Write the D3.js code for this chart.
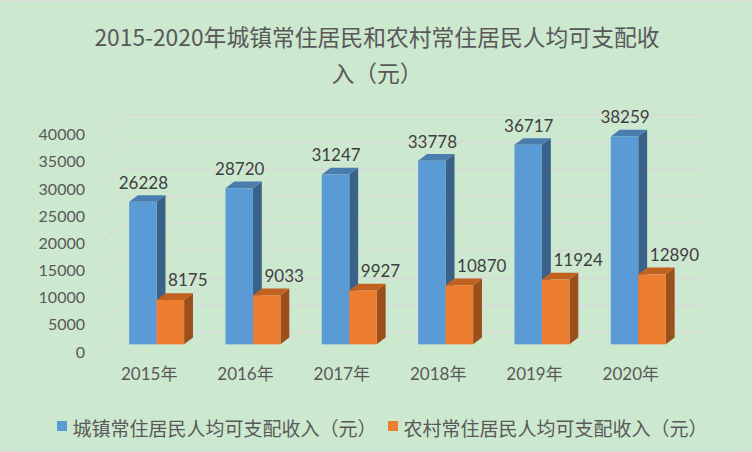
<!DOCTYPE html>
<html>
<head>
<meta charset="utf-8">
<script src="https://cdn.jsdelivr.net/npm/d3@7"></script>
<style>
  body { margin: 0; background: #cce8cf; }
  svg { display: block; }
</style>
</head>
<body>
<div id="chart"></div>
<script>
const years = ["2015年", "2016年", "2017年", "2018年", "2019年", "2020年"];
const urban = [26228, 28720, 31247, 33778, 36717, 38259];
const rural = [8175, 9033, 9927, 10870, 11924, 12890];
const seriesNames = ["城镇常住居民人均可支配收入（元）", "农村常住居民人均可支配收入（元）"];
const yTicks = [0, 5000, 10000, 15000, 20000, 25000, 30000, 35000, 40000];
const titleLines = ["2015-2020年城镇常住居民和农村常住居民人均可支配收", "入（元）"];

const width = 752, height = 452
const textColor = "#595959"
const gridColor = "#d9d9d9"

// fake 3d: front plane + depth vector
const depth = {dx: 23.3, dy: -17.7}
const t0 = 0.32, t1 = 0.70   // where the bars sit between front and back wall

const colors = [
  {front: "#5b9bd5", top: "#4a7cae", side: "#3a6288"},
  {front: "#ed7d31", top: "#c0611f", side: "#9a4f1c"}
]

const svg = d3.select("#chart").append("svg").attr("width", width).attr("height", height)

svg.append("rect").attr("x", 0.5).attr("y", 0.5).attr("width", width - 1).attr("height", height - 1)
  .attr("fill", "#cce8cf").attr("stroke", gridColor)

// title
svg.selectAll(".title").data(titleLines).enter().append("text")
  .attr("class", "title")
  .attr("x", 377)
  .attr("y", (d, i) => 46 + i * 36)
  .attr("text-anchor", "middle")
  .attr("font-family", "'Noto Sans CJK SC'")
  .attr("font-size", 22.8)
  .attr("fill", textColor)
  .text(d => d)

const x = d3.scaleBand().domain(years).range([101, 679]).padding(0)
const y = d3.scaleLinear().domain([0, 40000]).range([350, 132.7])

const groupW = x.bandwidth() * 0.571
const groupOff = (x.bandwidth() - groupW) / 2
const barW = groupW / 2

// gridlines: back wall + left side wall
const grid = svg.append("g")
grid.selectAll(".gback").data(yTicks).enter().append("line")
  .attr("x1", x.range()[0] + depth.dx).attr("x2", x.range()[1] + depth.dx)
  .attr("y1", d => y(d) + depth.dy).attr("y2", d => y(d) + depth.dy)
  .attr("stroke", gridColor).attr("stroke-width", 1.5)
grid.selectAll(".gside").data(yTicks).enter().append("line")
  .attr("x1", x.range()[0]).attr("x2", x.range()[0] + depth.dx)
  .attr("y1", d => y(d)).attr("y2", d => y(d) + depth.dy)
  .attr("stroke", gridColor).attr("stroke-width", 1.5)

// y axis labels
svg.selectAll(".ylab").data(yTicks).enter().append("text")
  .attr("x", 85)
  .attr("y", d => y(d) + 1)
  .attr("dominant-baseline", "central")
  .attr("text-anchor", "end")
  .attr("font-family", "Lato, 'Open Sans', sans-serif")
  .attr("font-size", 16)
  .attr("fill", textColor)
  .text(d => d)

// x axis labels
svg.selectAll(".xlab").data(years).enter().append("text")
  .attr("x", d => x(d) + x.bandwidth() / 2)
  .attr("y", 380)
  .attr("text-anchor", "middle")
  .attr("font-family", "Lato, 'Noto Sans CJK SC', sans-serif")
  .attr("font-size", 17)
  .attr("fill", textColor)
  .text(d => d)

function bar3d(g, x0, v, c) {
  const ox = t0 * depth.dx, oy = t0 * depth.dy
  const ddx = (t1 - t0) * depth.dx, ddy = (t1 - t0) * depth.dy
  const xl = x0 + ox, xr = x0 + ox + barW
  const yt = y(v) + oy, yb = y(0) + oy
  // side
  g.append("path")
    .attr("d", `M${xr},${yt}L${xr + ddx},${yt + ddy}L${xr + ddx},${yb + ddy}L${xr},${yb}Z`)
    .attr("fill", c.side)
  // top
  g.append("path")
    .attr("d", `M${xl},${yt}L${xl + ddx},${yt + ddy}L${xr + ddx},${yt + ddy}L${xr},${yt}Z`)
    .attr("fill", c.top)
  // front
  g.append("rect")
    .attr("x", xl).attr("y", yt).attr("width", barW).attr("height", yb - yt)
    .attr("fill", c.front)
}

const bars = svg.append("g")
years.forEach((yr, i) => {
  const gx = x(yr) + groupOff
  bar3d(bars, gx, urban[i], colors[0])
  bar3d(bars, gx + barW, rural[i], colors[1])
})

// data labels
const labels = svg.append("g")
  .attr("font-family", "Lato, 'Open Sans', sans-serif")
  .attr("font-size", 17)
  .attr("fill", "#404040")
labels.selectAll(".lu").data(urban).enter().append("text")
  .attr("x", (d, i) => x(years[i]) + groupOff + t0 * depth.dx + barW / 2 + 0.5)
  .attr("y", d => y(d) + t1 * depth.dy - 6.5)
  .attr("text-anchor", "middle")
  .text(d => d)
labels.selectAll(".lr").data(rural).enter().append("text")
  .attr("x", (d, i) => x(years[i]) + groupOff + t0 * depth.dx + barW + 11.5)
  .attr("y", d => y(d) + t1 * depth.dy - 7)
  .attr("text-anchor", "start")
  .text(d => d)

// legend
const legX = [57, 388]
const legend = svg.selectAll(".leg").data(seriesNames).enter().append("g")
  .attr("transform", (d, i) => `translate(${legX[i]},421)`)
legend.append("rect").attr("width", 10).attr("height", 10)
  .attr("fill", (d, i) => colors[i].front)
legend.append("text")
  .attr("x", 15.5).attr("y", 6)
  .attr("dominant-baseline", "central")
  .attr("font-family", "'Noto Sans CJK SC'")
  .attr("font-size", 19)
  .attr("fill", textColor)
  .text(d => d)
</script>
</body>
</html>
